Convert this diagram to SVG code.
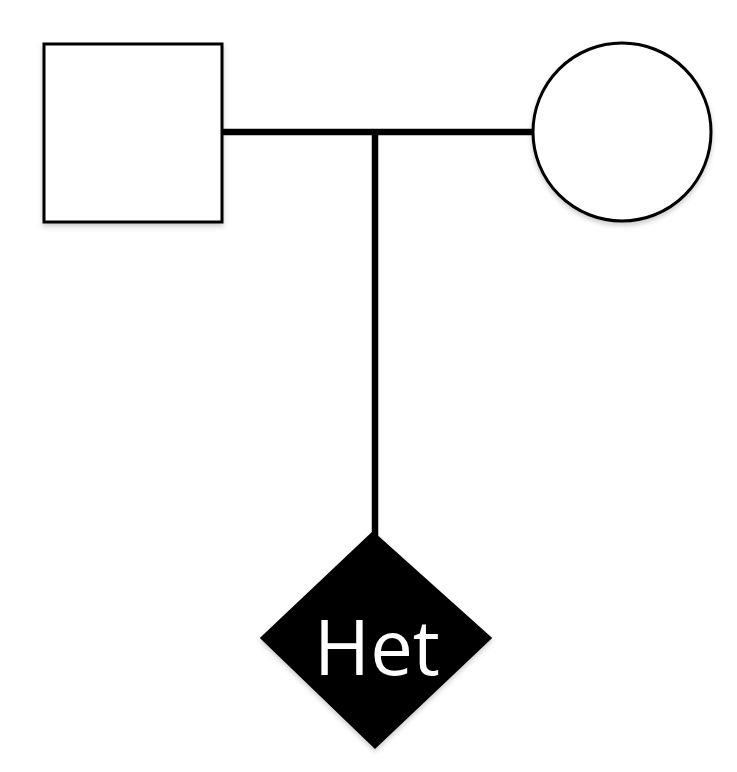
<svg xmlns="http://www.w3.org/2000/svg" width="737" height="772" viewBox="0 0 737 772">
  <defs>
    <filter id="sh" x="-10%" y="-10%" width="120%" height="125%">
      <feDropShadow dx="0" dy="3" stdDeviation="2.5" flood-color="#000" flood-opacity="0.2"/>
    </filter>
  </defs>
  <style>
    .node { stroke: #000; stroke-width: 3; filter: url(#sh); }
    .line { stroke: #000; stroke-width: 6.5; fill: none; }
    .label { font-family: "Open Sans", "Liberation Sans", sans-serif; font-size: 76px; fill: #fff; text-anchor: middle; }
  </style>
  <rect width="737" height="772" fill="#fff"/>
  <g id="connectors">
    <line class="line" x1="223" y1="132" x2="533" y2="132"/>
    <line class="line" x1="375" y1="132" x2="375" y2="536"/>
  </g>
  <g id="father">
    <rect class="node" x="44" y="44" width="178" height="178" fill="#fff"/>
  </g>
  <g id="mother">
    <circle class="node" cx="622" cy="132" r="89" fill="#fff"/>
  </g>
  <g id="child">
    <polygon class="node" points="373,533 490,638 375,747 262,638" fill="#000" stroke-width="1"/>
    <text class="label" x="377" y="675">Het</text>
  </g>
</svg>
